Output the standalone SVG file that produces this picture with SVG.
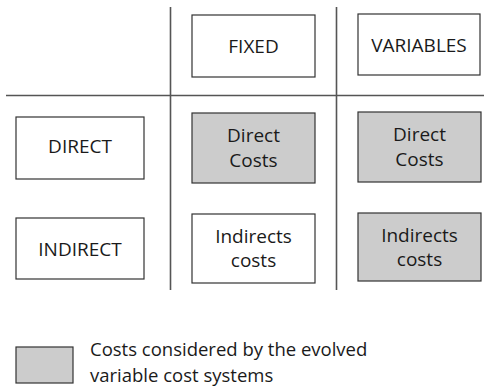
<svg xmlns="http://www.w3.org/2000/svg" width="484" height="390" viewBox="0 0 484 390">
<style>
.box{fill:#ffffff;stroke:#333333;stroke-width:1.2}
.gray{fill:#cccccc;stroke:#333333;stroke-width:1.2}
.t{font-family:"Open Sans","Noto Sans",sans-serif;font-size:19px;fill:#1a1a1a;text-anchor:middle}
.lg{font-family:"Open Sans","Noto Sans",sans-serif;font-size:18.5px;fill:#1a1a1a}
.ln{stroke:#555555;stroke-width:1.6;fill:none}
</style>
<rect width="484" height="390" fill="#ffffff"/>
<g id="connectors">
<line class="ln" x1="170.5" y1="7" x2="170.5" y2="290"/>
<line class="ln" x1="336.5" y1="7" x2="336.5" y2="290"/>
<line class="ln" x1="6" y1="95.5" x2="484" y2="95.5"/>
</g>
<g id="fixed"><rect class="box" x="192" y="15" width="123" height="62"/><text class="t" x="253.5" y="53">FIXED</text></g>
<g id="variables"><rect class="box" x="358" y="14" width="122" height="61"/><text class="t" x="419" y="52">VARIABLES</text></g>
<g id="direct"><rect class="box" x="16" y="117" width="128" height="62"/><text class="t" x="80" y="153">DIRECT</text></g>
<g id="indirect"><rect class="box" x="16" y="218" width="128" height="61"/><text class="t" x="80" y="256">INDIRECT</text></g>
<g id="direct-fixed"><rect class="gray" x="192" y="113" width="123" height="70"/><text class="t" x="253.5" y="142">Direct</text><text class="t" x="253.5" y="167">Costs</text></g>
<g id="direct-variable"><rect class="gray" x="358" y="112" width="123" height="70"/><text class="t" x="419.5" y="141">Direct</text><text class="t" x="419.5" y="166">Costs</text></g>
<g id="indirect-fixed"><rect class="box" x="192" y="214" width="123" height="69"/><text class="t" x="253.5" y="243">Indirects</text><text class="t" x="253.5" y="267">costs</text></g>
<g id="indirect-variable"><rect class="gray" x="358" y="213" width="123" height="68"/><text class="t" x="419.5" y="242">Indirects</text><text class="t" x="419.5" y="266">costs</text></g>
<g id="legend"><rect class="gray" x="16" y="347" width="57" height="36"/><text class="lg" x="90" y="356">Costs considered by the evolved</text><text class="lg" x="90" y="381.5">variable cost systems</text></g>
</svg>
